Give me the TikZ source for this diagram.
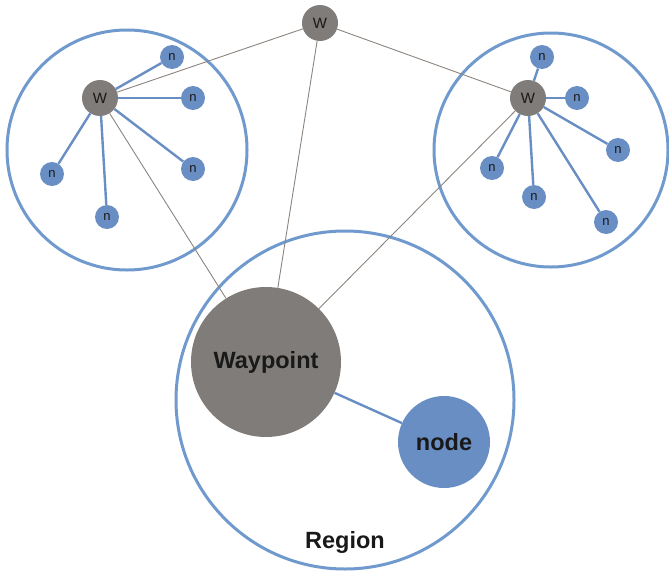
\documentclass[tikz,border=0pt]{standalone}
\usepackage{fontspec}
\setmainfont{Liberation Sans}
\definecolor{wgray}   {RGB}{127, 124, 121}
\definecolor{nblue}   {RGB}{104, 142, 196}
\definecolor{rblue}   {RGB}{112, 154, 205}
\definecolor{linkgray}{RGB}{140, 132, 126}
\definecolor{darktext}{RGB}{25,  25,  25}

\begin{document}
\begin{tikzpicture}[x=1pt, y=-1pt, text=darktext,
  wnode/.style={circle, fill=wgray, inner sep=0pt, minimum size=36pt,
    font=\fontsize{15}{15}\selectfont},
  nnode/.style={circle, fill=nblue, inner sep=0pt, minimum size=24pt,
    font=\fontsize{13}{13}\selectfont},
  region/.style={circle, draw=rblue, line width=3pt, inner sep=0pt},
  link/.style={linkgray, line width=0.9pt},
  member/.style={nblue, line width=2.4pt},
  big/.style={font=\fontsize{23.5}{23.5}\selectfont\bfseries}]
  \useasboundingbox (0,0) rectangle (669,570);
  % regions
  \node[region, minimum size=240pt] (leftreg)  at (127,150) {};
  \node[region, minimum size=234pt] (rightreg) at (551,150) {};
  \node[region, minimum size=338pt] (mainreg)  at (345,400) {};
  \node[big] (regionlbl) at (345,542) {Region};
  % waypoints
  \node[wnode] (wtop)   at (320,23) {W};
  \node[wnode] (wleft)  at (100,98) {W};
  \node[wnode] (wright) at (528,98) {W};
  \node[circle, fill=wgray, inner sep=0pt, minimum size=150pt, big] (waypoint) at (266,362) {Waypoint};
  \node[circle, fill=nblue, inner sep=0pt, minimum size=92pt, big] (node) at (444,442) {node};
  % nodes round the left waypoint
  \node[nnode] (la) at (172,57)  {n};
  \node[nnode] (lb) at (193,98)  {n};
  \node[nnode] (lc) at (52,174)  {n};
  \node[nnode] (ld) at (193,169) {n};
  \node[nnode] (le) at (107,217) {n};
  % nodes round the right waypoint
  \node[nnode] (ra) at (542,57)  {n};
  \node[nnode] (rb) at (577,98)  {n};
  \node[nnode] (rc) at (618,150) {n};
  \node[nnode] (rd) at (492,168) {n};
  \node[nnode] (re) at (534,197) {n};
  \node[nnode] (rf) at (606,222) {n};
  % links between waypoints
  \draw[link] (wtop) -- (wleft);
  \draw[link] (wtop) -- (wright);
  \draw[link] (wtop) -- (waypoint);
  \draw[link] (wleft) -- (waypoint);
  \draw[link] (wright) -- (waypoint);
  % members
  \draw[member] (wleft) -- (la);
  \draw[member] (wleft) -- (lb);
  \draw[member] (wleft) -- (lc);
  \draw[member] (wleft) -- (ld);
  \draw[member] (wleft) -- (le);
  \draw[member] (wright) -- (ra);
  \draw[member] (wright) -- (rb);
  \draw[member] (wright) -- (rc);
  \draw[member] (wright) -- (rd);
  \draw[member] (wright) -- (re);
  \draw[member] (wright) -- (rf);
  \draw[member] (waypoint) -- (node);
\end{tikzpicture}
\end{document}
